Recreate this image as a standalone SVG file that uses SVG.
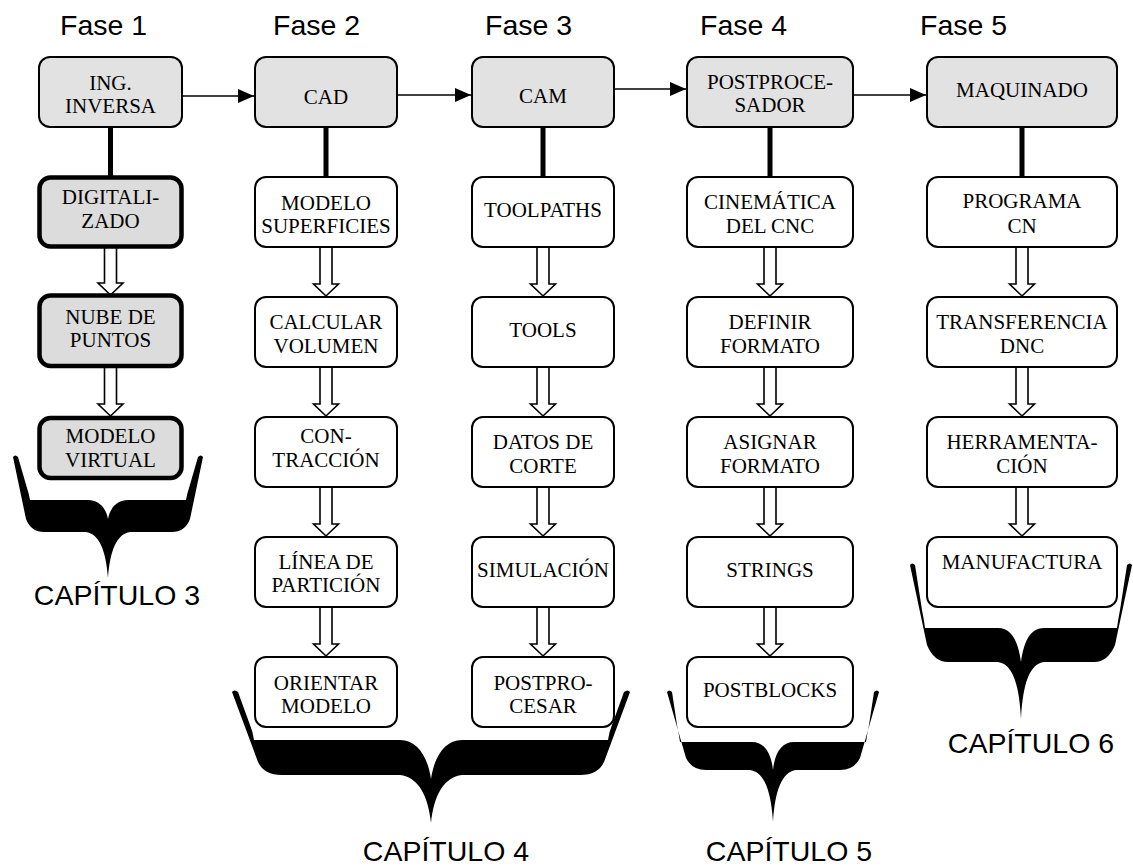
<svg xmlns="http://www.w3.org/2000/svg" xmlns:xlink="http://www.w3.org/1999/xlink" width="1133" height="868" viewBox="0 0 1133 868">
  <style>
    .phase { fill: #e2e2e2; stroke: #000; stroke-width: 2; }
    .step { fill: #fff; stroke: #000; stroke-width: 2; }
    .scan { fill: #dcdcdc; stroke: #000; stroke-width: 4.5; }
    .lbl { font-family: "Liberation Serif", Tinos, "Times New Roman", "DejaVu Serif", serif; font-size: 21px; fill: #000; text-anchor: middle; }
    .head { font-family: "Liberation Sans", Arial, sans-serif; font-size: 28.5px; fill: #000; }
    .chap { font-family: "Liberation Sans", Arial, sans-serif; font-size: 28.5px; fill: #000; text-anchor: middle; }
    .flow { stroke: #000; stroke-width: 1.6; fill: none; }
    .link { stroke: #000; stroke-width: 5; }
    .hollow { fill: #fff; stroke: #000; stroke-width: 1.6; stroke-linejoin: miter; }
    .brace { fill: #000; stroke: none; }
  </style>
  <defs>
    <marker id="tri" viewBox="0 0 16 14" refX="16" refY="7" markerWidth="16" markerHeight="14" markerUnits="userSpaceOnUse" orient="auto">
      <path d="M0,0 L16,7 L0,14 Z" fill="#000"/>
    </marker>
    <!-- hollow downward block arrow, 48 px long -->
    <path id="down" class="hollow" d="M-6,0 L-6,36 L-12.5,36 L0,48 L12.5,36 L6,36 L6,0"/>
  </defs>

  <!-- phase headings -->
  <g id="headings">
    <text class="head" x="60" y="35">Fase 1</text>
    <text class="head" x="273" y="35">Fase 2</text>
    <text class="head" x="485" y="35">Fase 3</text>
    <text class="head" x="700" y="35">Fase 4</text>
    <text class="head" x="920" y="35">Fase 5</text>
  </g>

  <!-- connectors -->
  <g id="connectors">
    <line class="flow" x1="183" y1="96" x2="254" y2="96" marker-end="url(#tri)"/>
    <line class="flow" x1="398" y1="95" x2="471" y2="95" marker-end="url(#tri)"/>
    <line class="flow" x1="615" y1="89" x2="686" y2="89" marker-end="url(#tri)"/>
    <line class="flow" x1="854" y1="95" x2="926" y2="95" marker-end="url(#tri)"/>

    <line class="link" x1="110.5" y1="128" x2="110.5" y2="176"/>
    <line class="link" x1="326" y1="128" x2="326" y2="176"/>
    <line class="link" x1="543" y1="128" x2="543" y2="176"/>
    <line class="link" x1="770" y1="128" x2="770" y2="176"/>
    <line class="link" x1="1022" y1="128" x2="1022" y2="176"/>

    <use xlink:href="#down" x="110.5" y="247"/>
    <use xlink:href="#down" x="110.5" y="368"/>

    <use xlink:href="#down" x="326" y="248"/>
    <use xlink:href="#down" x="326" y="368"/>
    <use xlink:href="#down" x="326" y="488"/>
    <use xlink:href="#down" x="326" y="608"/>

    <use xlink:href="#down" x="543" y="248"/>
    <use xlink:href="#down" x="543" y="368"/>
    <use xlink:href="#down" x="543" y="488"/>
    <use xlink:href="#down" x="543" y="608"/>

    <use xlink:href="#down" x="770" y="248"/>
    <use xlink:href="#down" x="770" y="368"/>
    <use xlink:href="#down" x="770" y="488"/>
    <use xlink:href="#down" x="770" y="608"/>

    <use xlink:href="#down" x="1022" y="248"/>
    <use xlink:href="#down" x="1022" y="368"/>
    <use xlink:href="#down" x="1022" y="488"/>
  </g>

  <!-- Fase 1 -->
  <g id="ing-inversa">
    <rect class="phase" x="39" y="57" width="143" height="70" rx="11"/>
    <text class="lbl" x="110.5" y="90">ING.</text>
    <text class="lbl" x="110.5" y="113">INVERSA</text>
  </g>
  <g id="digitalizado">
    <rect class="scan" x="39.5" y="177.5" width="142" height="69" rx="11"/>
    <text class="lbl" x="110.5" y="204">DIGITALI-</text>
    <text class="lbl" x="110.5" y="228">ZADO</text>
  </g>
  <g id="nube-de-puntos">
    <rect class="scan" x="39.5" y="295.5" width="142" height="70.5" rx="11"/>
    <text class="lbl" x="110.5" y="324">NUBE DE</text>
    <text class="lbl" x="110.5" y="347">PUNTOS</text>
  </g>
  <g id="modelo-virtual">
    <rect class="scan" x="39.5" y="418" width="142" height="60" rx="11"/>
    <text class="lbl" x="110.5" y="443">MODELO</text>
    <text class="lbl" x="110.5" y="467">VIRTUAL</text>
  </g>

  <!-- Fase 2 -->
  <g id="cad">
    <rect class="phase" x="255" y="57" width="142" height="70" rx="11"/>
    <text class="lbl" x="326" y="104">CAD</text>
  </g>
  <g id="modelo-superficies">
    <rect class="step" x="255" y="177" width="142" height="70" rx="11"/>
    <text class="lbl" x="326" y="210">MODELO</text>
    <text class="lbl" x="326" y="233">SUPERFICIES</text>
  </g>
  <g id="calcular-volumen">
    <rect class="step" x="255" y="297" width="142" height="70" rx="11"/>
    <text class="lbl" x="326" y="329">CALCULAR</text>
    <text class="lbl" x="326" y="353">VOLUMEN</text>
  </g>
  <g id="contraccion">
    <rect class="step" x="255" y="417" width="142" height="70" rx="11"/>
    <text class="lbl" x="326" y="443">CON-</text>
    <text class="lbl" x="326" y="467">TRACCIÓN</text>
  </g>
  <g id="linea-de-particion">
    <rect class="step" x="255" y="537" width="142" height="70" rx="11"/>
    <text class="lbl" x="326" y="569">LÍNEA DE</text>
    <text class="lbl" x="326" y="592">PARTICIÓN</text>
  </g>
  <g id="orientar-modelo">
    <rect class="step" x="255" y="657" width="142" height="70" rx="11"/>
    <text class="lbl" x="326" y="690">ORIENTAR</text>
    <text class="lbl" x="326" y="713">MODELO</text>
  </g>

  <!-- Fase 3 -->
  <g id="cam">
    <rect class="phase" x="472" y="57" width="142" height="70" rx="11"/>
    <text class="lbl" x="543" y="103">CAM</text>
  </g>
  <g id="toolpaths">
    <rect class="step" x="472" y="177" width="142" height="70" rx="11"/>
    <text class="lbl" x="543" y="217">TOOLPATHS</text>
  </g>
  <g id="tools">
    <rect class="step" x="472" y="297" width="142" height="70" rx="11"/>
    <text class="lbl" x="543" y="337">TOOLS</text>
  </g>
  <g id="datos-de-corte">
    <rect class="step" x="472" y="417" width="142" height="70" rx="11"/>
    <text class="lbl" x="543" y="449">DATOS DE</text>
    <text class="lbl" x="543" y="473">CORTE</text>
  </g>
  <g id="simulacion">
    <rect class="step" x="472" y="537" width="142" height="70" rx="11"/>
    <text class="lbl" x="543" y="577">SIMULACIÓN</text>
  </g>
  <g id="postprocesar">
    <rect class="step" x="472" y="657" width="142" height="70" rx="11"/>
    <text class="lbl" x="543" y="690">POSTPRO-</text>
    <text class="lbl" x="543" y="713">CESAR</text>
  </g>

  <!-- Fase 4 -->
  <g id="postprocesador">
    <rect class="phase" x="687" y="57" width="166" height="70" rx="11"/>
    <text class="lbl" x="770" y="89">POSTPROCE-</text>
    <text class="lbl" x="770" y="112">SADOR</text>
  </g>
  <g id="cinematica">
    <rect class="step" x="687" y="177" width="166" height="70" rx="11"/>
    <text class="lbl" x="770" y="209">CINEMÁTICA</text>
    <text class="lbl" x="770" y="233">DEL CNC</text>
  </g>
  <g id="definir-formato">
    <rect class="step" x="687" y="297" width="166" height="70" rx="11"/>
    <text class="lbl" x="770" y="329">DEFINIR</text>
    <text class="lbl" x="770" y="353">FORMATO</text>
  </g>
  <g id="asignar-formato">
    <rect class="step" x="687" y="417" width="166" height="70" rx="11"/>
    <text class="lbl" x="770" y="449">ASIGNAR</text>
    <text class="lbl" x="770" y="473">FORMATO</text>
  </g>
  <g id="strings">
    <rect class="step" x="687" y="537" width="166" height="70" rx="11"/>
    <text class="lbl" x="770" y="577">STRINGS</text>
  </g>
  <g id="postblocks">
    <rect class="step" x="687" y="657" width="166" height="70" rx="11"/>
    <text class="lbl" x="770" y="697">POSTBLOCKS</text>
  </g>

  <!-- Fase 5 -->
  <g id="maquinado">
    <rect class="phase" x="927" y="57" width="190" height="70" rx="11"/>
    <text class="lbl" x="1022" y="97">MAQUINADO</text>
  </g>
  <g id="programa-cn">
    <rect class="step" x="927" y="177" width="190" height="70" rx="11"/>
    <text class="lbl" x="1022" y="208">PROGRAMA</text>
    <text class="lbl" x="1022" y="233">CN</text>
  </g>
  <g id="transferencia-dnc">
    <rect class="step" x="927" y="297" width="190" height="70" rx="11"/>
    <text class="lbl" x="1022" y="329">TRANSFERENCIA</text>
    <text class="lbl" x="1022" y="353">DNC</text>
  </g>
  <g id="herramentacion">
    <rect class="step" x="927" y="417" width="190" height="70" rx="11"/>
    <text class="lbl" x="1022" y="449">HERRAMENTA-</text>
    <text class="lbl" x="1022" y="473">CIÓN</text>
  </g>
  <g id="manufactura">
    <rect class="step" x="927" y="537" width="190" height="70" rx="11"/>
    <text class="lbl" x="1022" y="569">MANUFACTURA</text>
  </g>

  <!-- chapter braces -->
  <g id="capitulo-3">
    <path class="brace" d="M13,457 Q15,454 18,457 L27,488 Q29,494 30,500 L88,500 C99,500 106,508 108,519 C110,508 117,500 128,500 L186,500 Q187,494 189,488 L198,457 Q201,454 203,457 L190,519 Q185,532 172,532 L130,532 C117,534 110,550 108,578 C106,550 99,534 86,532 L44,532 Q31,532 26,519 Z"/>
    <text class="chap" x="117" y="605">CAPÍTULO 3</text>
  </g>
  <g id="capitulo-4">
    <path class="brace" d="M232,692 Q234,689 238,692 L250,725 Q253,732 254,740 L400,740 C418,740 428,758 431,779 C434,758 444,740 462,740 L608,740 Q609,732 612,725 L624,692 Q628,689 630,692 L604,762 Q598,775 580,775 L462,775 C444,777 434,795 431,823 C428,795 418,777 400,775 L282,775 Q264,775 258,762 Z"/>
    <text class="chap" x="446" y="861">CAPÍTULO 4</text>
  </g>
  <g id="capitulo-5">
    <path class="brace" d="M667,692 Q669,689 672,692 L677,725 Q679,735 680,742 L752,742 C764,742 771,752 773,770 C775,752 782,742 794,742 L866,742 Q867,735 869,725 L874,692 Q877,689 879,692 L860,758 Q854,770 840,770 L796,770 C782,772 775,790 773,822 C771,790 764,772 750,770 L706,770 Q692,770 686,758 Z"/>
    <text class="chap" x="789" y="861">CAPÍTULO 5</text>
  </g>
  <g id="capitulo-6">
    <path class="brace" d="M910,565 Q912,562 915,565 L922,610 Q924,620 925,628 L998,628 C1011,628 1018,640 1021,662 C1024,640 1031,628 1044,628 L1117,628 Q1118,620 1120,610 L1127,565 Q1130,562 1132,565 L1115,645 Q1108,662 1094,662 L1044,662 C1030,664 1023,682 1021,719 C1019,682 1012,664 998,662 L948,662 Q934,662 927,645 Z"/>
    <text class="chap" x="1031" y="753">CAPÍTULO 6</text>
  </g>
</svg>
